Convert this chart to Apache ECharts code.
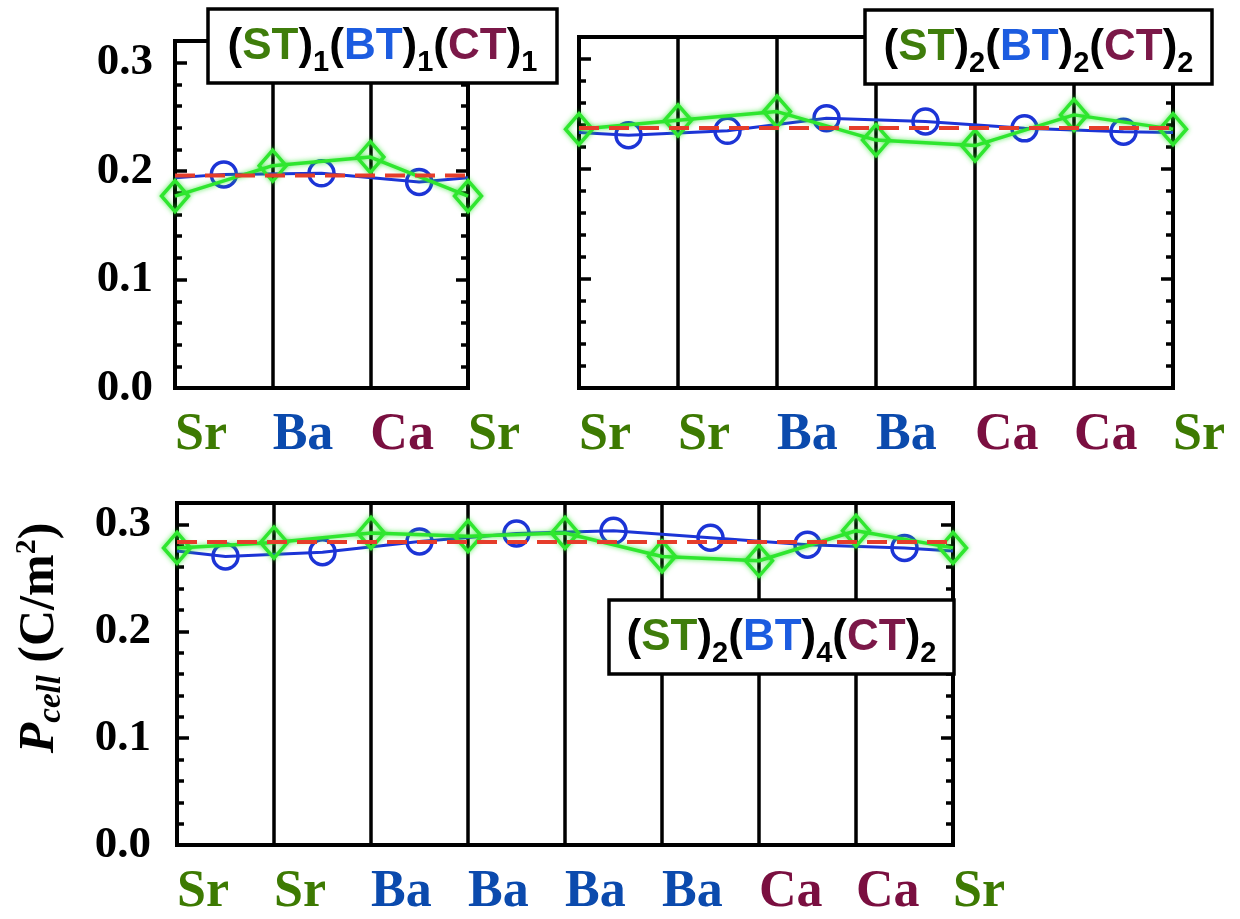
<!DOCTYPE html>
<html>
<head>
<meta charset="utf-8">
<script src="https://cdn.jsdelivr.net/npm/echarts@6/dist/echarts.min.js"></script>
<style>
  html, body { margin: 0; padding: 0; background: #fff; }
  #chart { width: 1240px; height: 919px; }
</style>
</head>
<body>
<div id="chart"></div>
<script>
// Cell polarisation of the A-site stacking sequences
const yTickValues = [0, 0.1, 0.2, 0.3];

// (ST)1(BT)1(CT)1
const p1Sites = ['Sr', 'Ba', 'Ca', 'Sr'];
const p1Green = [0.177, 0.205, 0.213, 0.177];
const p1Blue = [0.197, 0.198, 0.190];
const p1BlueEdge = 0.194;
const p1Avg = 0.196;

// (ST)2(BT)2(CT)2
const p2Sites = ['Sr', 'Sr', 'Ba', 'Ba', 'Ca', 'Ca', 'Sr'];
const p2Green = [0.236, 0.244, 0.252, 0.226, 0.221, 0.249, 0.236];
const p2Blue = [0.2305, 0.2345, 0.246, 0.243, 0.2367, 0.2336];
const p2BlueEdge = 0.233;
const p2Avg = 0.237;

// (ST)2(BT)4(CT)2
const p3Sites = ['Sr', 'Sr', 'Ba', 'Ba', 'Ba', 'Ba', 'Ca', 'Ca', 'Sr'];
const p3Green = [0.278, 0.283, 0.292, 0.289, 0.292, 0.270, 0.266, 0.294, 0.278];
const p3Blue = [0.270, 0.274, 0.284, 0.2915, 0.294, 0.2875, 0.281, 0.278];
const p3BlueEdge = 0.275;
const p3Avg = 0.2835;

const SERIF = "'Liberation Serif','Times New Roman',serif";
const SANS = "'Liberation Sans',Arial,sans-serif";
const SITE_COLORS = { Sr: '#3d7a02', Ba: '#0b4aad', Ca: '#7a0f40' };
const GREEN = '#2fe62f';
const BLUE = '#1c34d6';
const RED = '#e53d2b';

const panels = [
  { sites: p1Sites, green: p1Green, blue: p1Blue, blueEdge: p1BlueEdge, avg: p1Avg,
    grid: { left: 175, top: 41, width: 293, height: 347 }, yLabels: true, yMargin: 22 },
  { sites: p2Sites, green: p2Green, blue: p2Blue, blueEdge: p2BlueEdge, avg: p2Avg,
    grid: { left: 579, top: 37, width: 594, height: 351 }, yLabels: false, yMargin: 22 },
  { sites: p3Sites, green: p3Green, blue: p3Blue, blueEdge: p3BlueEdge, avg: p3Avg,
    grid: { left: 177, top: 503, width: 776, height: 343 }, yLabels: true, yMargin: 26 }
];

const siteRich = {};
Object.keys(SITE_COLORS).forEach(k => {
  siteRich[k] = { color: SITE_COLORS[k], fontFamily: SERIF, fontWeight: 'bold', fontSize: 52 };
});

function isMajor(v) {
  return yTickValues.some(t => Math.abs(t - v) < 1e-6);
}

const grids = [], xAxes = [], yAxes = [], series = [];

panels.forEach((p, i) => {
  const n = p.sites.length - 1;
  grids.push(Object.assign({ show: true, borderColor: '#000', borderWidth: 4, backgroundColor: 'transparent' }, p.grid));

  xAxes.push({
    gridIndex: i, type: 'value', min: 0, max: n, interval: 1,
    axisLine: { show: true, onZero: false, lineStyle: { color: '#000', width: 4 } },
    axisTick: { show: false },
    splitLine: { show: true, lineStyle: { color: '#000', width: 3.5 } },
    axisLabel: {
      show: true, margin: 22, align: 'left',
      formatter: v => { const s = p.sites[Math.round(v)]; return '{' + s + '|' + s + '}'; },
      rich: siteRich
    }
  });

  // major (0.1) and minor (0.02) ticks on both sides
  [['left', 0.1, 12, p.yLabels], ['left', 0.02, 7, false], ['right', 0.1, 12, false], ['right', 0.02, 7, false]]
    .forEach(([pos, step, len, labels]) => {
      yAxes.push({
        gridIndex: i, type: 'value', min: 0, max: 0.32, interval: step, position: pos,
        axisLine: { show: false },
        axisTick: { show: true, inside: true, length: len, lineStyle: { color: '#000', width: 3.5 } },
        splitLine: { show: false },
        axisLabel: {
          show: labels, margin: p.yMargin, showMaxLabel: false,
          formatter: v => isMajor(v) ? v.toFixed(1) : '',
          color: '#000', fontFamily: SERIF, fontWeight: 'bold', fontSize: 45
        }
      });
    });

  const yIdx = i * 4;

  // blue: averaged layer polarisation between the planes
  const blueData = [{ value: [0, p.blueEdge], symbol: 'none' }];
  p.blue.forEach((v, k) => blueData.push({ value: [k + 0.5, v] }));
  blueData.push({ value: [n, p.blueEdge], symbol: 'none' });
  series.push({
    type: 'line', xAxisIndex: i, yAxisIndex: yIdx, data: blueData, clip: false, z: 3,
    symbol: 'circle', symbolSize: 25, showAllSymbol: true,
    itemStyle: { color: 'rgba(0,0,0,0)', borderColor: BLUE, borderWidth: 3.5 },
    lineStyle: { color: BLUE, width: 3 },
    emphasis: { disabled: true }
  });

  // green: polarisation centred on the A-site planes
  series.push({
    type: 'line', xAxisIndex: i, yAxisIndex: yIdx, data: p.green.map((v, k) => [k, v]), clip: false, z: 4,
    symbol: 'diamond', symbolSize: [27, 31], showAllSymbol: true,
    itemStyle: { color: 'rgba(0,0,0,0)', borderColor: GREEN, borderWidth: 3.5,
      shadowBlur: 5, shadowColor: 'rgba(40,230,40,0.8)' },
    lineStyle: { color: GREEN, width: 3.5, shadowBlur: 5, shadowColor: 'rgba(40,230,40,0.8)' },
    emphasis: { disabled: true }
  });

  // red dashed: cell average
  series.push({
    type: 'line', xAxisIndex: i, yAxisIndex: yIdx, data: [[0, p.avg], [n, p.avg]], clip: false, z: 5,
    symbol: 'none',
    lineStyle: { color: RED, width: 4, type: [20, 10] },
    emphasis: { disabled: true }
  });
});

// ---- text runs with sub/superscripts, laid out piece by piece ----
const measureCtx = document.createElement('canvas').getContext('2d');
function fontString(pc) {
  return (pc.italic ? 'italic ' : '') + 'bold ' + pc.size + 'px ' + pc.family;
}
// pieces: {t, size, family, fill, italic, dy}; returns text elements centred on (cx, cy)
function textRun(pieces, cx, cy, z) {
  const widths = pieces.map(pc => { measureCtx.font = fontString(pc); return measureCtx.measureText(pc.t).width; });
  const total = widths.reduce((a, b) => a + b, 0);
  let x = cx - total / 2;
  return pieces.map((pc, k) => {
    const el = {
      type: 'text', x: x, y: cy + (pc.dy || 0), z: z,
      style: {
        text: pc.t, fill: pc.fill || '#000', fontSize: pc.size, fontFamily: pc.family,
        fontWeight: 'bold', fontStyle: pc.italic ? 'italic' : 'normal',
        align: 'left', verticalAlign: 'middle'
      }
    };
    x += widths[k];
    return el;
  });
}

// formula boxes
const MAIN = 44, SUB = 29, SUB_DY = 16;
function formulaPieces(a, b, c) {
  const m = (t, fill) => ({ t: t, size: MAIN, family: SANS, fill: fill });
  const s = t => ({ t: String(t), size: SUB, family: SANS, dy: SUB_DY });
  return [m('('), m('ST', '#3f7d0b'), m(')'), s(a),
          m('('), m('BT', '#1c5ce0'), m(')'), s(b),
          m('('), m('CT', '#7b1848'), m(')'), s(c)];
}
function box(x, y, w, h, pieces) {
  return {
    type: 'group', z: 100,
    children: [
      { type: 'rect', shape: { x: x, y: y, width: w, height: h },
        style: { fill: '#fff', stroke: '#000', lineWidth: 3.5 }, z: 100 }
    ].concat(textRun(pieces, x + w / 2, y + h / 2 + 1, 101))
  };
}

const yTitle = {
  type: 'group', x: 40, y: 638, rotation: Math.PI / 2, z: 100,
  children: textRun([
    { t: 'P', size: 50, family: SERIF, italic: true },
    { t: 'cell', size: 33, family: SERIF, italic: true, dy: 11 },
    { t: ' (C/m', size: 50, family: SERIF },
    { t: '2', size: 30, family: SERIF, dy: -13 },
    { t: ')', size: 50, family: SERIF }
  ], 0, 0, 100)
};

const option = {
  backgroundColor: '#fff',
  animation: false,
  grid: grids,
  xAxis: xAxes,
  yAxis: yAxes,
  series: series,
  graphic: [
    box(208, 9, 349, 74, formulaPieces(1, 1, 1)),
    box(865, 10, 347, 74, formulaPieces(2, 2, 2)),
    box(609, 600, 345, 74, formulaPieces(2, 4, 2)),
    yTitle
  ]
};

const chart = echarts.init(document.getElementById('chart'), null, { renderer: 'canvas' });
chart.setOption(option);
</script>
</body>
</html>
